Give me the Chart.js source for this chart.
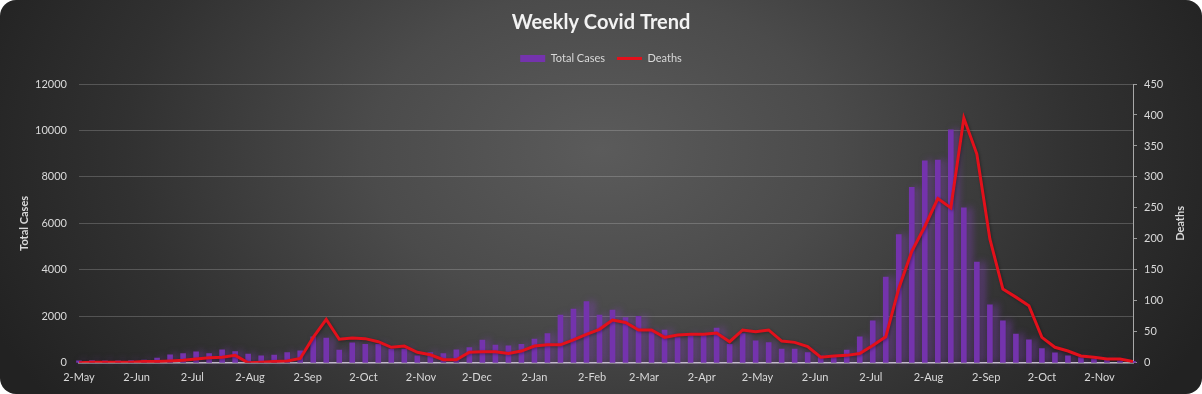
<!DOCTYPE html>
<html>
<head>
<meta charset="utf-8">
<title>Weekly Covid Trend</title>
<script src="https://cdn.jsdelivr.net/npm/chart.js@4.4.1/dist/chart.umd.min.js"></script>
<style>
  html, body { margin: 0; padding: 0; background: #ffffff; }
  #wrap {
    width: 1202px;
    height: 394px;
    border-radius: 16px;
    overflow: hidden;
    background: radial-gradient(ellipse 55% 115% at 50% 38%, #5b5b5b 0%, #4b4b4b 35%, #313131 72%, #222222 100%);
  }
  canvas { display: block; }
</style>
</head>
<body>
<div id="wrap"><canvas id="covidChart" width="1202" height="394"></canvas></div>
<script>
// first week of the series, weeks follow every 7 days
const startDate = new Date(2020, 4, 2);

// weekly total cases (left axis)
const totalCases = [
  80, 95, 90, 85, 95, 120, 200, 340, 400, 470,
  400, 560, 480, 370, 300, 330, 440, 520, 1120, 1060,
  545, 860, 800, 800, 590, 590, 300, 445, 400, 560,
  660, 975, 760, 730, 800, 1020, 1260, 2050, 2310, 2640,
  2050, 2265, 1950, 2000, 1375, 1405, 1090, 1230, 1260, 1490,
  800, 1260, 945, 875, 590, 590, 445, 300, 260, 545,
  1120, 1805, 3690, 5520, 7550, 8690, 8730, 10030, 6670, 4340,
  2500, 1807, 1233, 990, 617, 430, 300, 230, 170, 115,
  85, 60,
];

// weekly deaths (right axis)
const deaths = [
  0, 1, 1, 1, 1, 2, 2, 3, 4, 6,
  8, 9, 12, 0, 1, 2, 3, 7, 41, 70,
  38, 40, 39, 34, 25, 27, 17, 13, 5, 5,
  17, 18, 18, 15, 19, 27, 29, 29, 37, 46,
  54, 69, 65, 53, 53, 41, 45, 46, 46, 48,
  34, 53, 50, 53, 35, 33, 26, 9, 11, 12,
  15, 28, 42, 120, 180, 220, 265, 250, 395, 337,
  200, 119, 106, 92, 41, 25, 19, 11, 9, 6,
  6, 2,
];

// x axis labels, one for the 2nd of every month
const tickLabels = [
  "2-May", "2-Jun", "2-Jul", "2-Aug", "2-Sep", "2-Oct", "2-Nov", "2-Dec",
  "2-Jan", "2-Feb", "2-Mar", "2-Apr", "2-May", "2-Jun", "2-Jul", "2-Aug",
  "2-Sep", "2-Oct", "2-Nov",
];

const leftTicks = { min: 0, max: 12000, step: 2000 };
const rightTicks = { min: 0, max: 450, step: 50 };

const DAY = 86400000;
// day offset of each week and of each month tick
const weekDays = totalCases.map((_, i) => i * 7);
const tickDays = tickLabels.map((_, k) => {
  const d = new Date(2020, 4 + k, 2);
  return Math.round((d - startDate) / DAY);
});

const fontFamily = "Lato, 'Open Sans', sans-serif";
const textColor = "#d9d9d9";

// soft purple glow behind the bars
const barGlow = {
  id: "barGlow",
  beforeDatasetDraw(chart, args) {
    const ctx = chart.ctx;
    if (args.index === 0) {
      ctx.shadowColor = "rgba(130, 60, 190, 0.55)";
      ctx.shadowBlur = 7;
      ctx.shadowOffsetX = 5;
      ctx.shadowOffsetY = 0;
    } else {
      ctx.shadowColor = "rgba(0, 0, 0, 0.35)";
      ctx.shadowBlur = 3;
      ctx.shadowOffsetX = 1;
      ctx.shadowOffsetY = 1;
    }
  },
  afterDatasetDraw(chart) {
    const ctx = chart.ctx;
    ctx.shadowColor = "transparent";
    ctx.shadowBlur = 0;
    ctx.shadowOffsetX = 0;
    ctx.shadowOffsetY = 0;
  },
};

// extra room under the legend
const legendMargin = {
  id: "legendMargin",
  beforeInit(chart) {
    const fitValue = chart.legend.fit;
    chart.legend.fit = function fit() {
      fitValue.bind(chart.legend)();
      this.height += 10;
    };
  },
};

// right axis title, rotated like the left one
const rightTitle = {
  id: "rightTitle",
  afterDraw(chart) {
    const { ctx, chartArea } = chart;
    ctx.save();
    ctx.translate(1180, (chartArea.top + chartArea.bottom) / 2);
    ctx.rotate(-Math.PI / 2);
    ctx.font = "bold 11px " + fontFamily;
    ctx.fillStyle = textColor;
    ctx.textAlign = "center";
    ctx.textBaseline = "middle";
    ctx.fillText("Deaths", 0, 0);
    ctx.restore();
  },
};

const ctx = document.getElementById("covidChart").getContext("2d");

new Chart(ctx, {
  type: "bar",
  data: {
    datasets: [
      {
        type: "bar",
        label: "Total Cases",
        data: weekDays.map((x, i) => ({ x, y: totalCases[i] })),
        backgroundColor: "#7433ad",
        barThickness: 5,
        yAxisID: "y",
        order: 2,
        pointStyle: "rect",
        clip: 6,
      },
      {
        type: "line",
        label: "Deaths",
        data: weekDays.map((x, i) => ({ x, y: deaths[i] })),
        borderColor: "#e3101b",
        backgroundColor: "#e3101b",
        borderWidth: 3,
        pointRadius: 0,
        tension: 0,
        yAxisID: "y1",
        order: 1,
        pointStyle: "line",
      },
    ],
  },
  options: {
    responsive: false,
    animation: false,
    layout: { padding: { top: 0, bottom: 2, left: 0, right: 0 } },
    plugins: {
      title: {
        display: true,
        text: "Weekly Covid Trend",
        color: "#f2f2f2",
        font: { family: fontFamily, size: 20, weight: "bold" },
        padding: { top: 11, bottom: 6 },
      },
      legend: {
        display: true,
        labels: {
          color: textColor,
          font: { family: fontFamily, size: 11 },
          usePointStyle: true,
          pointStyleWidth: 25,
          boxHeight: 7,
          padding: 12,
          sort: (a, b) => a.datasetIndex - b.datasetIndex,
        },
      },
      tooltip: { enabled: false },
    },
    scales: {
      x: {
        type: "linear",
        offset: false,
        min: 0,
        max: weekDays[weekDays.length - 1],
        afterBuildTicks: (scale) => {
          scale.ticks = tickDays.map((v) => ({ value: v }));
        },
        ticks: {
          autoSkip: false,
          maxRotation: 0,
          padding: 8,
          color: textColor,
          font: { family: fontFamily, size: 11 },
          callback: (value, index) => tickLabels[index],
        },
        grid: { display: true, offset: false, color: "transparent", drawTicks: false },
        border: { display: true, color: "#cfcfcf", width: 1.5 },
      },
      y: {
        position: "left",
        min: leftTicks.min,
        max: leftTicks.max,
        ticks: {
          stepSize: leftTicks.step,
          padding: 12,
          color: textColor,
          font: { family: fontFamily, size: 11 },
          callback: (v) => String(v),
        },
        grid: { color: "rgba(230, 230, 230, 0.22)", drawTicks: false },
        border: { display: false },
        title: {
          display: true,
          text: "Total Cases",
          color: textColor,
          font: { family: fontFamily, size: 11, weight: "bold" },
          padding: { top: 18, bottom: 0 },
        },
        afterFit: (scale) => {
          scale.width = 79;
        },
      },
      y1: {
        position: "right",
        min: rightTicks.min,
        max: rightTicks.max,
        ticks: {
          stepSize: rightTicks.step,
          padding: 7,
          color: textColor,
          font: { family: fontFamily, size: 11 },
        },
        grid: {
          drawOnChartArea: false,
          drawTicks: true,
          tickLength: 4,
          tickColor: "#9a9a9a",
        },
        border: { display: true, color: "#a8a8a8", width: 1 },
        afterFit: (scale) => {
          scale.width = 69;
        },
      },
    },
  },
  plugins: [barGlow, legendMargin, rightTitle],
});
</script>
</body>
</html>
